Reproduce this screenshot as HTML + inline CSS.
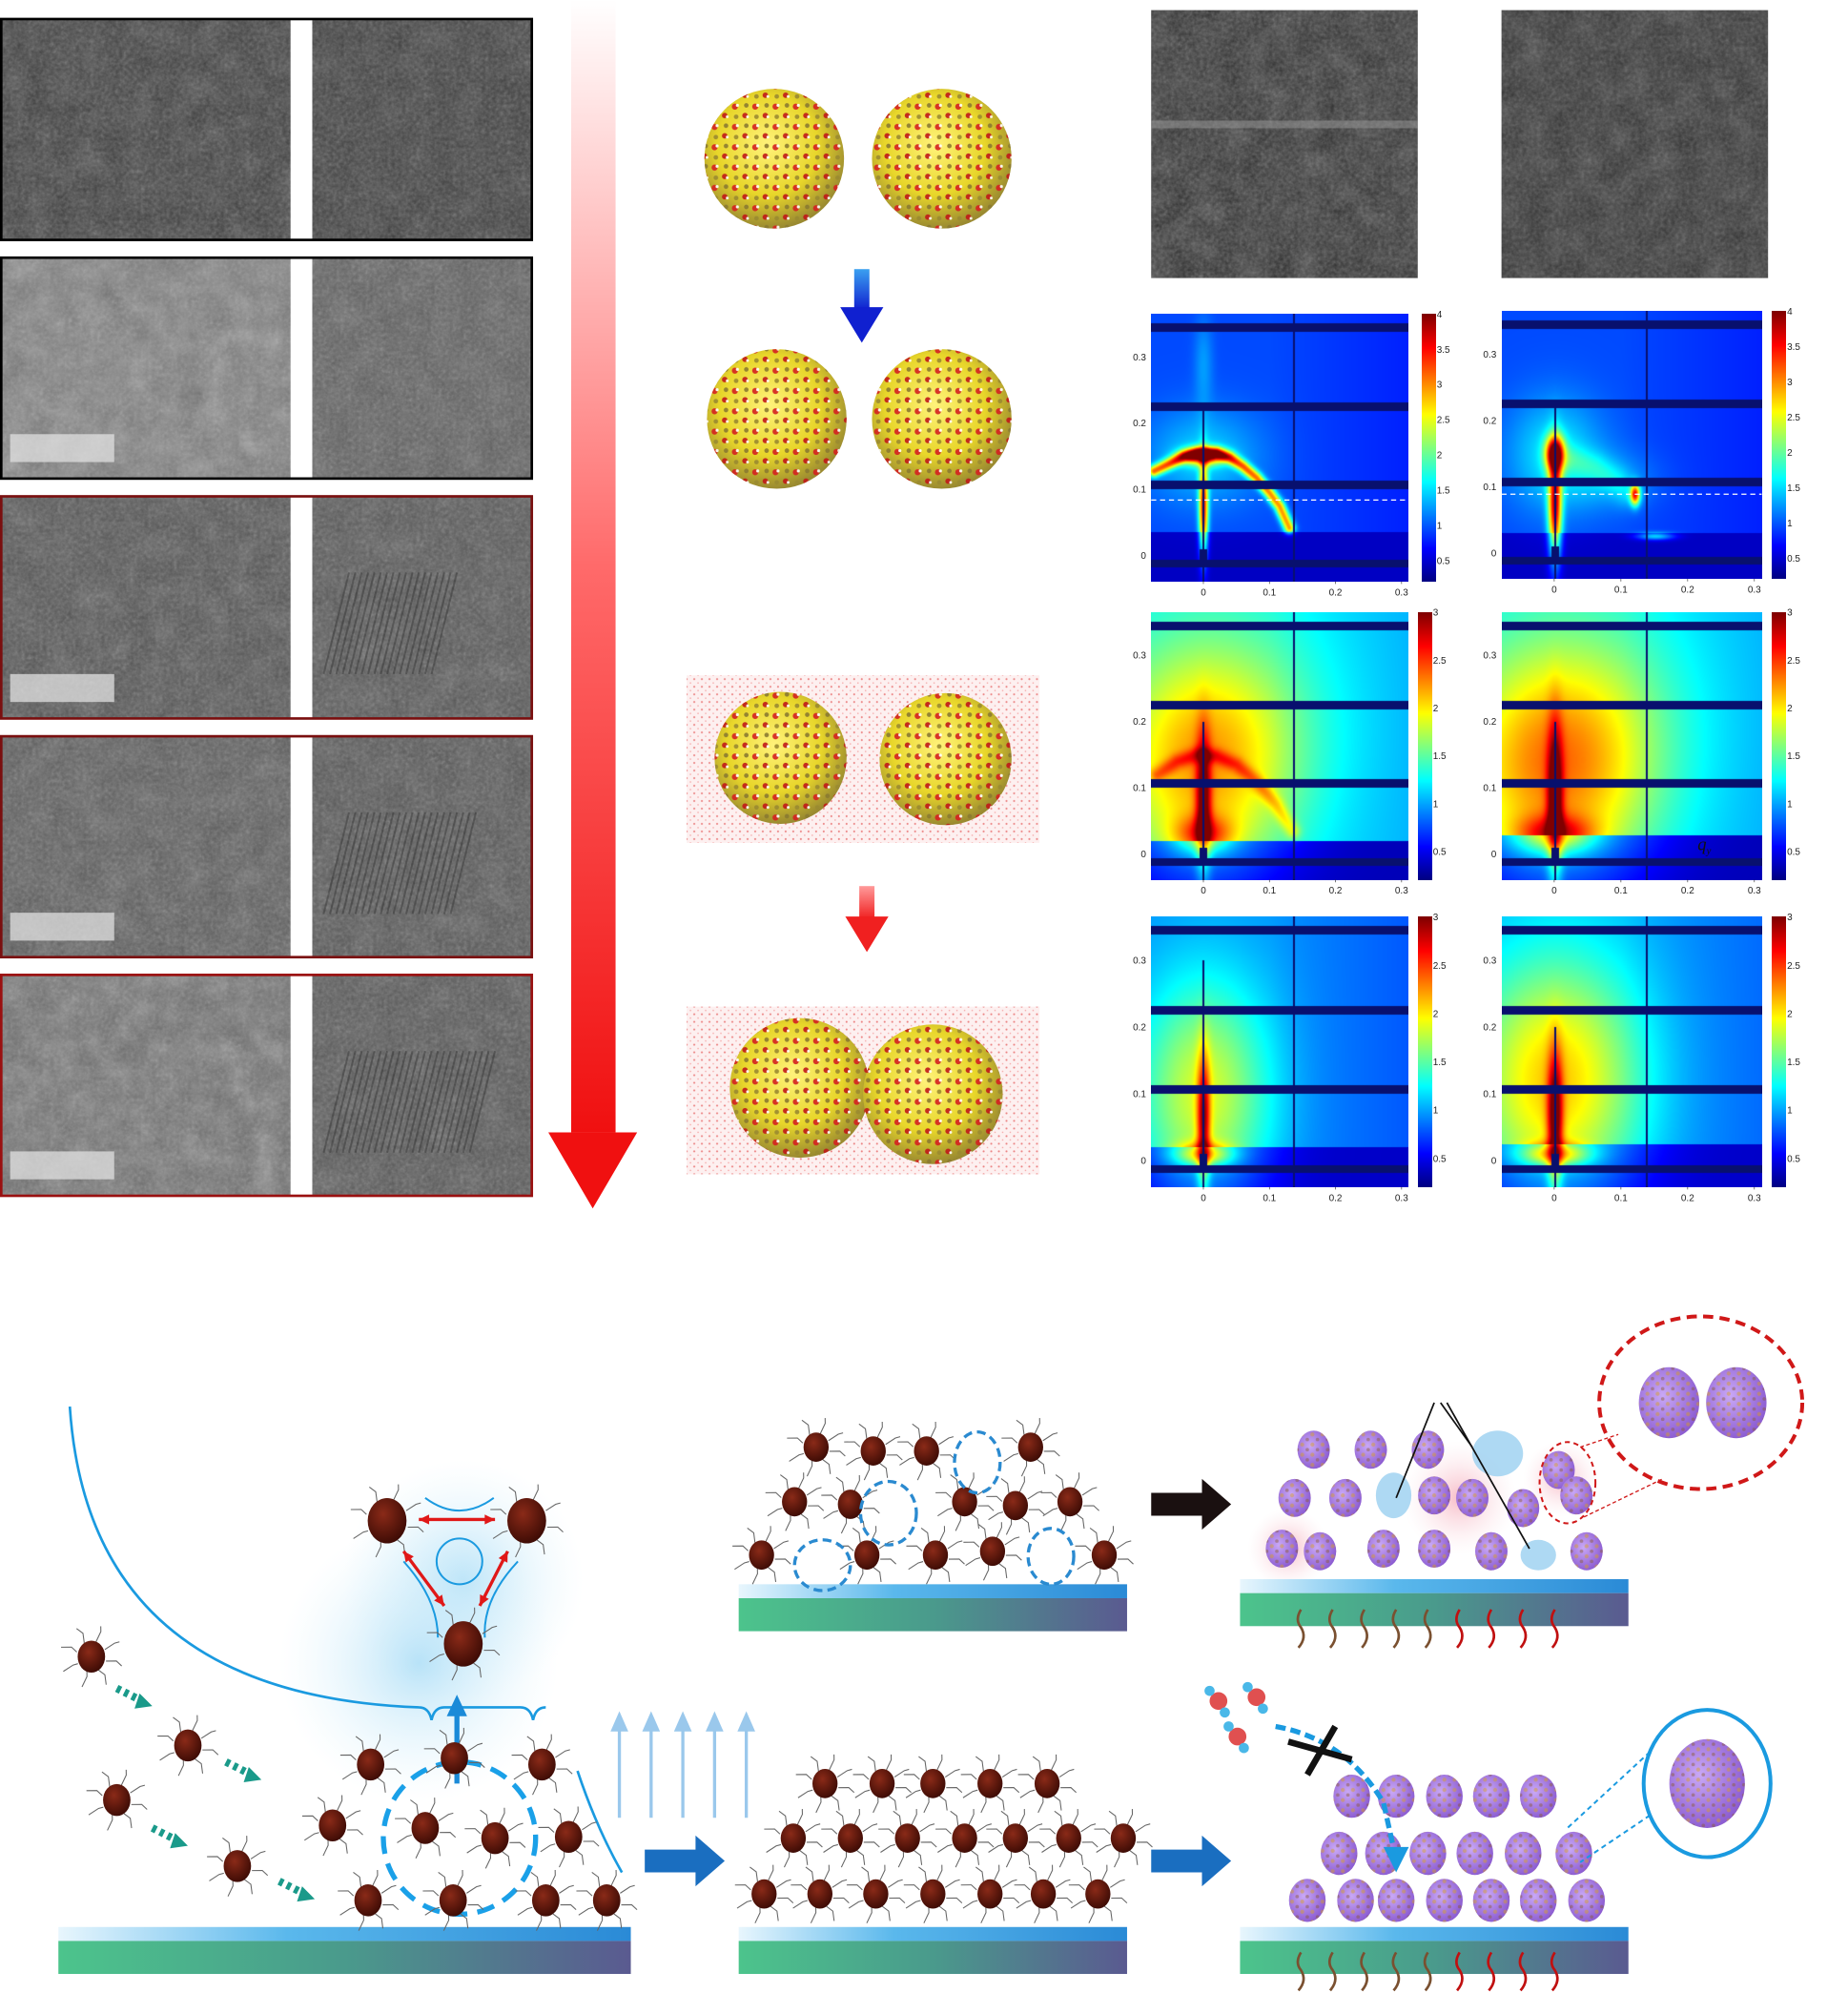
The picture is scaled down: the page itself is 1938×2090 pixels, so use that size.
<!DOCTYPE html>
<html><head><meta charset="utf-8">
<style>
html,body{margin:0;padding:0;background:#fff;}
#root{position:relative;width:1938px;height:2090px;overflow:hidden;background:#fff;font-family:"Liberation Sans",sans-serif;}
#main{position:absolute;left:0;top:0;}
canvas{position:absolute;}
</style></head>
<body>
<div id="root">
<svg id="main" width="1938" height="2090" viewBox="0 0 1456 1570" preserveAspectRatio="none" xmlns="http://www.w3.org/2000/svg">
<defs>
  <filter id="noiseF" x="0" y="0" width="100%" height="100%">
    <feTurbulence type="fractalNoise" baseFrequency="0.35" numOctaves="2" seed="3"/>
    <feColorMatrix type="saturate" values="0"/>
  </filter>
  <filter id="noiseC" x="0" y="0" width="100%" height="100%">
    <feTurbulence type="fractalNoise" baseFrequency="0.05" numOctaves="3" seed="7"/>
    <feColorMatrix type="saturate" values="0"/>
  </filter>
  <linearGradient id="redArrow" x1="0" y1="0" x2="0" y2="1">
    <stop offset="0" stop-color="#fff"/><stop offset="0.5" stop-color="#ff6a6a"/><stop offset="1" stop-color="#f01010"/>
  </linearGradient>
  <linearGradient id="blueDown" x1="0" y1="0" x2="0" y2="1">
    <stop offset="0" stop-color="#3aa0f0"/><stop offset="1" stop-color="#1020d0"/>
  </linearGradient>
  <linearGradient id="redDown" x1="0" y1="0" x2="0" y2="1">
    <stop offset="0" stop-color="#ff9a9a"/><stop offset="1" stop-color="#f02020"/>
  </linearGradient>
  <radialGradient id="sphere" cx="0.45" cy="0.4" r="0.6">
    <stop offset="0" stop-color="#fff27a"/><stop offset="0.6" stop-color="#e8d62a"/><stop offset="1" stop-color="#9a8a30"/>
  </radialGradient>
  <pattern id="atoms" width="16" height="16" patternUnits="userSpaceOnUse">
    <circle cx="3" cy="4" r="2.4" fill="#d42020"/><circle cx="5" cy="3" r="1.2" fill="#fff"/>
    <circle cx="11" cy="11" r="2.2" fill="#c01818"/><circle cx="13" cy="12" r="1.1" fill="#fff"/>
    <circle cx="12" cy="3" r="1.8" fill="#8a7a30"/><circle cx="4" cy="12" r="1.8" fill="#9a8a30"/>
  </pattern>
  <pattern id="water" width="6" height="6" patternUnits="userSpaceOnUse">
    <circle cx="1" cy="1" r="0.8" fill="#e04040"/><circle cx="4" cy="4" r="0.6" fill="#f08080"/>
  </pattern>
  <linearGradient id="subBar" x1="0" y1="0" x2="1" y2="0">
    <stop offset="0" stop-color="#4cc48c"/><stop offset="0.5" stop-color="#4a9a8c"/><stop offset="1" stop-color="#5a5a90"/>
  </linearGradient>
  <linearGradient id="subTop" x1="0" y1="0" x2="1" y2="0">
    <stop offset="0" stop-color="#e8f6fd"/><stop offset="0.4" stop-color="#5ab8ec"/><stop offset="1" stop-color="#2a8ad6"/>
  </linearGradient>
  <radialGradient id="glowBlue"><stop offset="0" stop-color="#a8dcf6" stop-opacity="0.8"/><stop offset="1" stop-color="#e0f4fc" stop-opacity="0"/></radialGradient>
  <radialGradient id="glowPink"><stop offset="0" stop-color="#f4a0b0" stop-opacity="0.7"/><stop offset="1" stop-color="#fbe0e6" stop-opacity="0"/></radialGradient>
  <radialGradient id="purp" cx="0.4" cy="0.4" r="0.65"><stop offset="0" stop-color="#c9a8f6"/><stop offset="1" stop-color="#8a5ad0"/></radialGradient>
  <pattern id="gold" width="8" height="8" patternUnits="userSpaceOnUse">
    <circle cx="2" cy="2" r="1.6" fill="#d8a020"/><circle cx="6" cy="6" r="1.4" fill="#8a5a30"/>
  </pattern>
  <radialGradient id="brownP" cx="0.4" cy="0.35" r="0.7"><stop offset="0" stop-color="#8a2a18"/><stop offset="1" stop-color="#3a0a04"/></radialGradient>
</defs>
<g id="tem"></g>
<g id="arrowMain">
  <rect x="450" y="0" width="35" height="892" fill="url(#redArrow)"/>
  <polygon points="432,892 502,892 467,952" fill="#f01010"/>
</g>
<g id="mol"></g>
<g id="gray">
  <rect x="907" y="8" width="210" height="211" fill="#2a2a2a"/>
  <rect x="907" y="8" width="210" height="211" fill="#fff" filter="url(#noiseF)" opacity="0.35"/>
  <rect x="907" y="8" width="210" height="211" fill="#fff" filter="url(#noiseC)" opacity="0.3"/>
  <rect x="907" y="95" width="210" height="6" fill="#9a9a9a" opacity="0.5"/>
  <rect x="1183" y="8" width="210" height="211" fill="#303030"/>
  <rect x="1183" y="8" width="210" height="211" fill="#fff" filter="url(#noiseF)" opacity="0.3"/>
  <rect x="1183" y="8" width="210" height="211" fill="#fff" filter="url(#noiseC)" opacity="0.25"/>
</g>
<g id="schem"></g>
</svg>
</div>
<script>
// ===== GIWAXS chart data =====
const xTicks = [0, 0.1, 0.2, 0.3];
const yTicks = [0, 0.1, 0.2, 0.3];
const xRange = [-0.079, 0.311];
const yRange = [-0.04, 0.365];
const cbTicksRow1 = [0.5, 1, 1.5, 2, 2.5, 3, 3.5, 4];
const cbTicksRow23 = [0.5, 1, 1.5, 2, 2.5, 3];
const cbRangeRow1 = [0.2, 4];
const cbRangeRow23 = [0.2, 3];
const gapBandsY = [0.345, 0.225, 0.107, -0.012];
const gapLineX = [0.137];
const dashLineY = [0.083, 0.088];
// blobs: [x, y, sx, sy, amp]
const p1LBlobs = [[0,0.15,0.022,0.009,2.2],[0,0.07,0.005,0.05,2.4],[0,0.15,0.06,0.05,0.5],[0,0.29,0.01,0.05,0.3]];
const p1LArcX = [-0.075,-0.05,-0.03,-0.01,0.02,0.04,0.06,0.08,0.1,0.115,0.13];
const p1LArcY = [0.128,0.14,0.15,0.155,0.155,0.148,0.135,0.118,0.095,0.075,0.042];
const p1RBlobs = [[0,0.15,0.01,0.018,2.6],[0,0.07,0.007,0.055,2.6],[0.12,0.088,0.005,0.011,2.2],[0.15,0.025,0.02,0.004,1.0],[0,0.15,0.05,0.06,0.6],[0.08,0.11,0.05,0.03,0.3]];
const p1RArcX = [0.03,0.06,0.09,0.11];
const p1RArcY = [0.14,0.13,0.11,0.09];
const p2LBlobs = [[0,0.12,0.09,0.12,0.75],[0,0.08,0.008,0.07,1.1],[0,0.03,0.03,0.02,0.8],[0.02,0.2,0.12,0.12,0.35]];
const p2LArcX = [-0.07,-0.04,-0.01,0.02,0.05,0.08,0.11,0.135];
const p2LArcY = [0.12,0.14,0.15,0.148,0.135,0.11,0.075,0.035];
const p2RBlobs = [[0,0.12,0.1,0.12,0.95],[0,0.08,0.008,0.08,1.2],[0,0.03,0.04,0.02,0.9],[0.03,0.22,0.12,0.12,0.3]];
const p3LBlobs = [[0,0.1,0.07,0.12,0.9],[0,0.06,0.007,0.07,1.2],[0,0.01,0.03,0.012,1.0]];
const p3RBlobs = [[0,0.12,0.09,0.13,1.1],[0,0.06,0.008,0.07,1.3],[0,0.01,0.035,0.012,1.0]];
const panelBase = {p1L:[0.95,0.45,0.035],p1R:[0.95,0.45,0.03],p2L:[1.2,0.35,0.02],p2R:[1.2,0.35,0.028],p3L:[0.95,0.4,0.02],p3R:[1.0,0.4,0.025]};

const SC = 1938/1456;
const SVGNS = "http://www.w3.org/2000/svg";
function el(tag, attrs, parent){const e=document.createElementNS(SVGNS,tag);for(const k in attrs)e.setAttribute(k,attrs[k]);if(parent)parent.appendChild(e);return e;}

function jet(t){t=Math.max(0,Math.min(1,t));
  const r=Math.max(0,Math.min(1,1.5-Math.abs(4*t-3)));
  const g=Math.max(0,Math.min(1,1.5-Math.abs(4*t-2)));
  const b=Math.max(0,Math.min(1,1.5-Math.abs(4*t-1)));
  return [r*255,g*255,b*255];}
function segDist2(px,py,ax,ay,bx,by){const dx=bx-ax,dy=by-ay;const L=dx*dx+dy*dy;let t=L?((px-ax)*dx+(py-ay)*dy)/L:0;t=Math.max(0,Math.min(1,t));const qx=ax+t*dx-px,qy=ay+t*dy-py;return qx*qx+qy*qy;}

const panels = [
 {key:'p1L',px:[907,1110],py:[247,458],cb:1120,blobs:p1LBlobs,arcX:p1LArcX,arcY:p1LArcY,arcA:2.0,arcW:0.006,cbT:cbTicksRow1,cbR:cbRangeRow1,dash:dashLineY[0],rod:0.22},
 {key:'p1R',px:[1183,1388],py:[245,456],cb:1396,blobs:p1RBlobs,arcX:p1RArcX,arcY:p1RArcY,arcA:0.35,arcW:0.015,cbT:cbTicksRow1,cbR:cbRangeRow1,dash:dashLineY[1],rod:0.22},
 {key:'p2L',px:[907,1110],py:[482,693],cb:1117,blobs:p2LBlobs,arcX:p2LArcX,arcY:p2LArcY,arcA:0.45,arcW:0.008,cbT:cbTicksRow23,cbR:cbRangeRow23,rod:0.2},
 {key:'p2R',px:[1183,1388],py:[482,693],cb:1396,blobs:p2RBlobs,arcX:[],arcY:[],arcA:0,arcW:0.01,cbT:cbTicksRow23,cbR:cbRangeRow23,rod:0.2,qy:true},
 {key:'p3L',px:[907,1110],py:[722,935],cb:1117,blobs:p3LBlobs,arcX:[],arcY:[],arcA:0,arcW:0.01,cbT:cbTicksRow23,cbR:cbRangeRow23,rod:0.3},
 {key:'p3R',px:[1183,1388],py:[722,935],cb:1396,blobs:p3RBlobs,arcX:[],arcY:[],arcA:0,arcW:0.01,cbT:cbTicksRow23,cbR:cbRangeRow23,rod:0.2}
];
const rootDiv=document.getElementById('root');
const overlaySvg=document.createElementNS(SVGNS,'svg');
overlaySvg.setAttribute('width','1938');overlaySvg.setAttribute('height','2090');overlaySvg.setAttribute('viewBox','0 0 1456 1570');overlaySvg.setAttribute('preserveAspectRatio','none');
overlaySvg.style.position='absolute';overlaySvg.style.left='0';overlaySvg.style.top='0';


const axesG=el('g',{},overlaySvg);

panels.forEach(P=>{
  const xS=v=>P.px[0]+(v-xRange[0])/(xRange[1]-xRange[0])*(P.px[1]-P.px[0]);
  const yS=v=>P.py[1]-(v-yRange[0])/(yRange[1]-yRange[0])*(P.py[1]-P.py[0]);
  const W=Math.round((P.px[1]-P.px[0])*SC), H=Math.round((P.py[1]-P.py[0])*SC);
  const c=document.createElement('canvas');
  
  
  c.width=W;c.height=H;c.style.left=(P.px[0]*SC)+'px';c.style.top=(P.py[0]*SC)+'px';
  rootDiv.appendChild(c);
  const ctx=c.getContext('2d');const img=ctx.createImageData(W,H);
  const base=panelBase[P.key];
  const arcs=P.arcX.map((x,i)=>[x,P.arcY[i]]);
  for(let j=0;j<H;j++){const y=yRange[1]-j/H*(yRange[1]-yRange[0]);
    for(let i=0;i<W;i++){const x=xRange[0]+i/W*(xRange[1]-xRange[0]);
      let v=y>base[2]?base[0]-0.15*Math.max(0,x-0.1)/0.2:base[1];
      for(const b of P.blobs){const dx=(x-b[0])/b[2],dy=(y-b[1])/b[3];v+=b[4]*Math.exp(-0.5*(dx*dx+dy*dy));}
      if(arcs.length>1){let d2=1e9;for(let a=0;a<arcs.length-1;a++){d2=Math.min(d2,segDist2(x,y,arcs[a][0],arcs[a][1],arcs[a+1][0],arcs[a+1][1]));}
        v+=P.arcA*Math.exp(-0.5*d2/(P.arcW*P.arcW));}
      let t=(v-P.cbR[0])/(P.cbR[1]-P.cbR[0]);
      let col=jet(t);
      let dark=false;
      for(const g of gapBandsY){if(Math.abs(y-g)<0.006)dark=true;}
      for(const g of gapLineX){if(Math.abs(x-g)<0.0015)dark=true;}
      if(Math.abs(x)<0.0015&&y<P.rod)dark=true;
      if(Math.abs(x)<0.006&&Math.abs(y)<0.01)dark=true;
      if(dark)col=[8,16,110];
      const k=(j*W+i)*4;img.data[k]=col[0];img.data[k+1]=col[1];img.data[k+2]=col[2];img.data[k+3]=255;}}
  ctx.putImageData(img,0,0);
  const cbW=Math.round(11*SC);const cc=document.createElement('canvas');
  
  
  cc.width=cbW;cc.height=H;cc.style.left=(P.cb*SC)+'px';cc.style.top=(P.py[0]*SC)+'px';rootDiv.appendChild(cc);
  const c2=cc.getContext('2d');for(let j=0;j<H;j++){const col=jet(1-j/H);c2.fillStyle=`rgb(${col[0]|0},${col[1]|0},${col[2]|0})`;c2.fillRect(0,j,cbW,1);}
  const cbY=v=>P.py[1]-(v-P.cbR[0])/(P.cbR[1]-P.cbR[0])*(P.py[1]-P.py[0]);
  P.cbT.forEach(t=>{const tx=el('text',{x:P.cb+12,y:cbY(t)+3,'font-size':7.5,fill:'#222'},axesG);tx.textContent=t;
    
    });
  xTicks.forEach(t=>{const tx=el('text',{x:xS(t),y:P.py[1]+11,'font-size':7.5,'text-anchor':'middle',fill:'#222'},axesG);tx.textContent=t;
    
    
    el('line',{x1:xS(t),x2:xS(t),y1:P.py[1],y2:P.py[1]+2,stroke:'#333','stroke-width':0.5},axesG);});
  yTicks.forEach(t=>{const tx=el('text',{x:P.px[0]-4,y:yS(t)+3,'font-size':7.5,'text-anchor':'end',fill:'#222'},axesG);tx.textContent=t;
    
    });
  if(P.dash!==undefined){const ln=el('line',{x1:P.px[0],x2:P.px[1],y1:yS(P.dash),y2:yS(P.dash),stroke:'#fff','stroke-width':1,'stroke-dasharray':'4,3'},axesG);
    
    }
  if(P.qy){const q=el('text',{x:xS(0.215),y:yS(0.005),'font-size':14,'font-style':'italic','font-family':'Liberation Serif, serif',fill:'#111'},axesG);q.textContent='q';
    
    
    const s=el('tspan',{'font-size':8,dy:3},q);s.textContent='y';}
});
rootDiv.appendChild(overlaySvg);

// ===== TEM panels =====
const tem=document.getElementById('tem');
const temRows=[[15,189,'#000','#3a3a3a','#3c3c3c'],[203,377,'#000','#787878','#5e5e5e'],[391,566,'#7a0f0f','#505050','#555555'],[580,754,'#7a0f0f','#5a5a5a','#555555'],[768,942,'#9a1010','#6a6a6a','#555555']];
temRows.forEach((r,i)=>{
  const g=el('g',{},tem);
  
  
  el('rect',{x:1,y:r[0],width:228,height:r[1]-r[0],fill:r[3]},g);
  el('rect',{x:1,y:r[0],width:228,height:r[1]-r[0],fill:'#fff',filter:'url(#noiseF)',opacity:0.35},g);
  el('rect',{x:1,y:r[0],width:228,height:r[1]-r[0],fill:'#fff',filter:'url(#noiseC)',opacity:i==1||i==4?0.45:0.25},g);
  el('rect',{x:246,y:r[0],width:173,height:r[1]-r[0],fill:r[4]},g);
  el('rect',{x:246,y:r[0],width:173,height:r[1]-r[0],fill:'#fff',filter:'url(#noiseF)',opacity:0.35},g);
  el('rect',{x:246,y:r[0],width:173,height:r[1]-r[0],fill:'#fff',filter:'url(#noiseC)',opacity:0.2},g);
  if(i>=2){for(let k=0;k<12+i*3;k++){el('line',{x1:275+k*5,y1:r[0]+60,x2:255+k*5,y2:r[0]+140,stroke:'#222','stroke-width':1.5,opacity:0.35},g);}}
  el('rect',{x:229,y:r[0],width:17,height:r[1]-r[0],fill:'#fff'},g);
  el('rect',{x:1,y:r[0],width:418,height:r[1]-r[0],fill:'none',stroke:r[2],'stroke-width':2},g);
  if(i>=1){const sb=el('rect',{x:8,y:r[1]-35,width:82,height:22,fill:'#e0e0e0',opacity:0.75},g);
    
    }
});

// ===== MD snapshots =====
const mol=document.getElementById('mol');
function sphere(cx,cy,r,nm){const g=el('g',{},mol);
  
  
  el('circle',{cx,cy,r,fill:'url(#sphere)'},g);el('circle',{cx,cy,r,fill:'url(#atoms)',opacity:0.9},g);}
const wb1=el('rect',{x:541,y:532,width:278,height:132,fill:'#fdf0f0'},mol);el('rect',{x:541,y:532,width:278,height:132,fill:'url(#water)',opacity:0.6},mol);


const wb2=el('rect',{x:541,y:793,width:278,height:132,fill:'#fdf0f0'},mol);el('rect',{x:541,y:793,width:278,height:132,fill:'url(#water)',opacity:0.6},mol);


sphere(610,125,55,'nc-pair-1a');sphere(742,125,55,'nc-pair-1b');
sphere(612,330,55,'nc-pair-2a');sphere(742,330,55,'nc-pair-2b');
sphere(615,597,52,'nc-pair-3a');sphere(745,598,52,'nc-pair-3b');
sphere(630,857,55,'nc-pair-4a');sphere(735,862,55,'nc-pair-4b');
const ba=el('g',{},mol);
el('rect',{x:673,y:212,width:12,height:32,fill:'url(#blueDown)'},ba);el('polygon',{points:'662,242 696,242 679,270',fill:'#1020d0'},ba);
const ra=el('g',{},mol);
el('rect',{x:677,y:698,width:12,height:26,fill:'url(#redDown)'},ra);el('polygon',{points:'666,722 700,722 683,750',fill:'#f02020'},ra);

// ===== Schematic =====
const sc=document.getElementById('schem');
function glow(cx,cy,r,fill){el('circle',{cx,cy,r,fill},sc);}
glow(365,1245,95,'url(#glowBlue)');glow(330,1310,110,'url(#glowBlue)');
glow(1015,1220,32,'url(#glowPink)');glow(1150,1180,45,'url(#glowPink)');glow(1230,1165,30,'url(#glowPink)');
function substrate(x,y,w,nm){const g=el('g',{},sc);
  
  
  el('rect',{x,y,width:w,height:11,fill:'url(#subTop)'},g);el('rect',{x,y:y+11,width:w,height:26,fill:'url(#subBar)'},g);}
substrate(46,1518,451,'substrate-left');substrate(582,1248,306,'substrate-mid-top');substrate(582,1518,306,'substrate-mid-bottom');
substrate(977,1244,306,'substrate-right-top');substrate(977,1518,306,'substrate-right-bottom');
function heater(y0,nm){const g=el('g',{},sc);
  for(let k=0;k<9;k++){const x=1025+k*25;el('path',{d:`M${x},${y0} q-5,8 0,14 q5,8 -2,16`,stroke:k<5?'#7a5030':'#c01010',fill:'none','stroke-width':2},g);}}
heater(1268,'heater-top');heater(1538,'heater-bottom');
function brown(cx,cy,r){const g=el('g',{},sc);
  
  
  for(let a=0;a<8;a++){const t=a*Math.PI/4+0.3;const x1=cx+Math.cos(t)*r,y1=cy+Math.sin(t)*r;const x2=cx+Math.cos(t)*(r+13),y2=cy+Math.sin(t)*(r+13);
    el('path',{d:`M${x1},${y1} L${(x1+x2)/2+2},${(y1+y2)/2-2} L${x2},${y2}`,stroke:'#666','stroke-width':0.8,fill:'none'},g);}
  el('ellipse',{cx,cy,rx:r*0.9,ry:r*1.05,fill:'url(#brownP)'},g);}
function purple(cx,cy,r){const g=el('g',{},sc);
  
  
  el('ellipse',{cx,cy,rx:r*0.85,ry:r,fill:'url(#purp)'},g);el('ellipse',{cx,cy,rx:r*0.85,ry:r,fill:'url(#gold)',opacity:0.45},g);}
const arcP=el('path',{d:'M55,1108 Q70,1335 330,1345 q8,0 10,10 q2,-10 10,-10 L410,1345 q8,0 10,10 q2,-10 10,-10',stroke:'#1a9ae0',fill:'none','stroke-width':2},sc);

el('path',{d:'M455,1395 Q470,1440 490,1475',stroke:'#1a9ae0',fill:'none','stroke-width':2},sc);
el('circle',{cx:362,cy:1230,r:18,fill:'none',stroke:'#1a9ae0','stroke-width':1.5},sc);
el('path',{d:'M335,1180 Q362,1200 389,1180',stroke:'#1a9ae0',fill:'none','stroke-width':1.5},sc);
el('path',{d:'M318,1230 Q345,1260 345,1290 M408,1230 Q380,1260 382,1290',stroke:'#1a9ae0',fill:'none','stroke-width':1.5},sc);
[[305,1198,17],[415,1198,17],[365,1295,17]].forEach(p=>brown(...p));
function dbl(x1,y1,x2,y2){const g=el('g',{},sc);
  el('line',{x1,y1,x2,y2,stroke:'#e01818','stroke-width':2.5},g);
  [[x1,y1,x2,y2],[x2,y2,x1,y1]].forEach(([a,b,c,d])=>{const ang=Math.atan2(b-d,a-c);
    el('polygon',{points:`${a},${b} ${a-9*Math.cos(ang-0.45)},${b-9*Math.sin(ang-0.45)} ${a-9*Math.cos(ang+0.45)},${b-9*Math.sin(ang+0.45)}`,fill:'#e01818'},g);});}
dbl(330,1197,390,1197);dbl(318,1222,350,1265);dbl(400,1222,378,1265);
const ua=el('g',{},sc);
el('line',{x1:360,y1:1405,x2:360,y2:1350,stroke:'#1a8ad8','stroke-width':4},ua);el('polygon',{points:'352,1352 368,1352 360,1335',fill:'#1a8ad8'},ua);
const dcirc=el('circle',{cx:362,cy:1448,r:60,fill:'none',stroke:'#1aa0e8','stroke-width':4,'stroke-dasharray':'14,8'},sc);

[[72,1305],[148,1375],[92,1418],[187,1470],[292,1390],[262,1438],[290,1497],[335,1440],[390,1448],[448,1447],[357,1497],[430,1497],[478,1497],[358,1385],[427,1390]].forEach(p=>brown(p[0],p[1],12));
function teal(x,y){const g=el('g',{},sc);
  for(let k=0;k<3;k++)el('line',{x1:x+k*6,y1:y+k*3,x2:x+k*6+3,y2:y+k*3+1.5,stroke:'#1a9a8a','stroke-width':6},g);
  el('polygon',{points:`${x+18},${y+4} ${x+28},${y+14} ${x+14},${y+16}`,fill:'#1a9a8a'},g);}
teal(92,1330);teal(178,1388);teal(120,1440);teal(220,1482);
for(let k=0;k<5;k++){const x=488+k*25;const g=el('g',{},sc);
  el('line',{x1:x,y1:1432,x2:x,y2:1360,stroke:'#9ac8ec','stroke-width':2.5},g);el('polygon',{points:`${x-7},${1364} ${x+7},${1364} ${x},${1348}`,fill:'#9ac8ec'},g);}
function bigArrow(x,y,color,nm){const g=el('g',{},sc);
  el('polygon',{points:`${x},${y-9} ${x+40},${y-9} ${x+40},${y-20} ${x+63},${y} ${x+40},${y+20} ${x+40},${y+9} ${x},${y+9}`,fill:color},g);}
bigArrow(508,1466,'#1a6ec0','step-arrow-1');bigArrow(907,1466,'#1a6ec0','step-arrow-2');bigArrow(907,1185,'#1a1010','step-arrow-3');
[[643,1140],[688,1143],[730,1143],[812,1140],[626,1183],[670,1185],[760,1183],[800,1186],[843,1183],[600,1225],[683,1225],[737,1225],[782,1222],[870,1225]].forEach(p=>brown(p[0],p[1],11));
[[770,1152,18,24],[700,1192,22,25],[648,1233,22,20],[828,1226,18,22]].forEach(l=>{const e=el('ellipse',{cx:l[0],cy:l[1],rx:l[2],ry:l[3],fill:'none',stroke:'#2a8ad0','stroke-width':2.5,'stroke-dasharray':'7,4'},sc);
  });
[650,695,735,780,825].forEach(x=>brown(x,1405,11));
[625,670,715,760,800,842,885].forEach(x=>brown(x,1448,11));
[602,646,690,735,780,822,865].forEach(x=>brown(x,1492,11));
[[1180,1145,20,18],[1098,1178,14,18],[1212,1225,14,12]].forEach(b=>{const e=el('ellipse',{cx:b[0],cy:b[1],rx:b[2],ry:b[3],fill:'#9ad0f0',opacity:0.8},sc);
  });
[[1035,1142],[1080,1142],[1125,1142],[1020,1180],[1060,1180],[1130,1178],[1160,1180],[1200,1188],[1228,1158],[1242,1178],[1010,1220],[1040,1222],[1090,1220],[1130,1220],[1175,1222],[1250,1222]].forEach(p=>purple(p[0],p[1],15));
el('ellipse',{cx:1235,cy:1168,rx:22,ry:32,fill:'none',stroke:'#d01818','stroke-width':1.5,'stroke-dasharray':'4,3'},sc);
const rcirc=el('ellipse',{cx:1340,cy:1105,rx:80,ry:68,fill:'none',stroke:'#d01818','stroke-width':3,'stroke-dasharray':'8,5'},sc);

el('line',{x1:1245,y1:1140,x2:1275,y2:1130,stroke:'#d01818','stroke-dasharray':'3,2'},sc);el('line',{x1:1248,y1:1195,x2:1310,y2:1165,stroke:'#d01818','stroke-dasharray':'3,2'},sc);
purple(1315,1105,28);purple(1368,1105,28);
[[1130,1105,1100,1180],[1135,1105,1160,1140],[1140,1105,1205,1220]].forEach(a=>{el('line',{x1:a[0],y1:a[1],x2:a[2],y2:a[3],stroke:'#111','stroke-width':1.3},sc);});
[1065,1100,1138,1175,1212].forEach(x=>purple(x,1415,17));
[1055,1090,1125,1162,1200,1240].forEach(x=>purple(x,1460,17));
[1030,1068,1100,1138,1175,1212,1250].forEach(x=>purple(x,1497,17));
const bcirc=el('ellipse',{cx:1345,cy:1405,rx:50,ry:58,fill:'#fff',stroke:'#1a9ae0','stroke-width':3},sc);

purple(1345,1405,35);
el('line',{x1:1300,y1:1380,x2:1235,y2:1440,stroke:'#1a9ae0','stroke-dasharray':'4,3','stroke-width':1.5},sc);
el('line',{x1:1300,y1:1430,x2:1245,y2:1467,stroke:'#1a9ae0','stroke-dasharray':'4,3','stroke-width':1.5},sc);
[[960,1340],[990,1337],[975,1368]].forEach(w=>{const g=el('g',{},sc);
  el('circle',{cx:w[0],cy:w[1],r:7,fill:'#e05050'},g);el('circle',{cx:w[0]-7,cy:w[1]-8,r:4,fill:'#4ab8e8'},g);el('circle',{cx:w[0]+5,cy:w[1]+9,r:4,fill:'#4ab8e8'},g);});
const dpath=el('path',{d:'M1005,1360 Q1060,1370 1090,1420 L1100,1465',stroke:'#1a9ae0',fill:'none','stroke-width':4,'stroke-dasharray':'8,4'},sc);

el('polygon',{points:'1090,1455 1110,1455 1100,1475',fill:'#1a9ae0'},sc);
const xm=el('g',{},sc);
el('line',{x1:1030,y1:1398,x2:1052,y2:1360,stroke:'#111','stroke-width':5},xm);el('line',{x1:1015,y1:1372,x2:1065,y2:1386,stroke:'#111','stroke-width':5},xm);
</script>
</body></html>
